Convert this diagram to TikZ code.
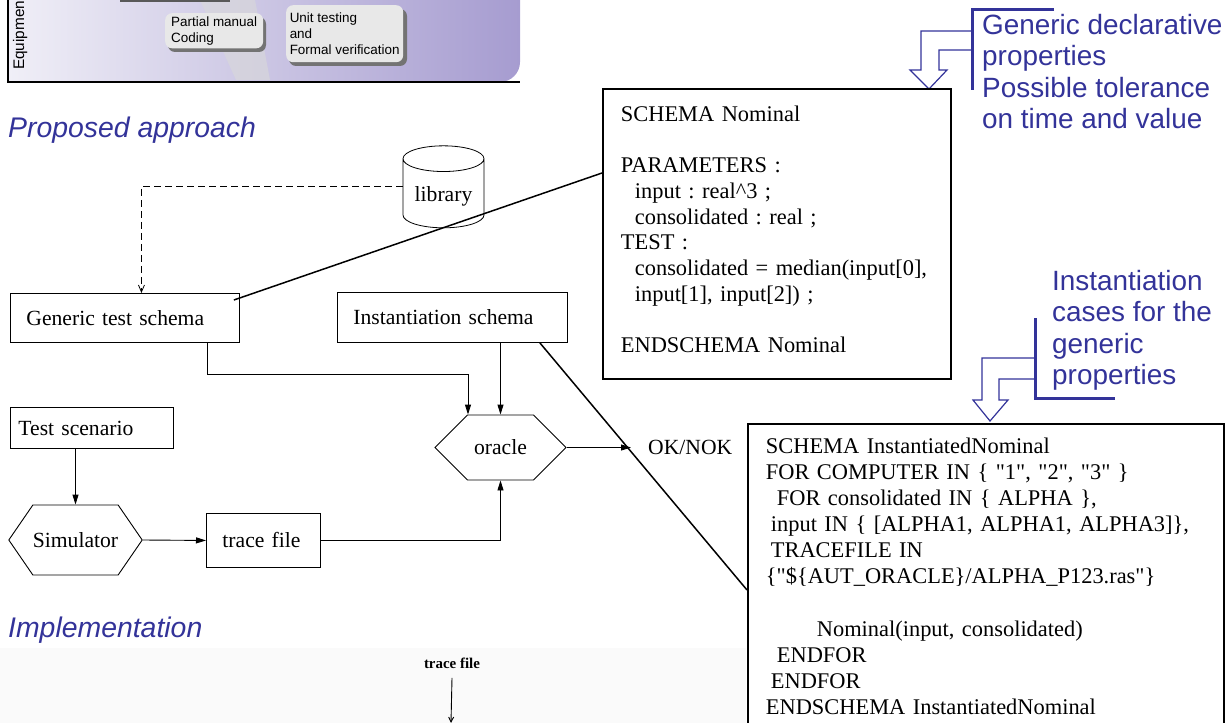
\documentclass[tikz,border=0pt]{standalone}
\usepackage{fontspec}
\setmainfont{Liberation Serif}
\newfontfamily\arialfont{Liberation Sans}
\usetikzlibrary{arrows.meta,shapes.geometric,shapes.symbols}
\definecolor{slideblue}{RGB}{51,51,153}
\definecolor{panelpurple}{RGB}{166,156,208}
\definecolor{panellight}{RGB}{240,239,247}
\frenchspacing

\begin{document}
\begin{tikzpicture}[x=1bp,y=-1bp,
  flowbox/.style={draw,line width=0.9bp,anchor=north west,inner xsep=16bp,align=left,font=\fontsize{21.7}{25}\selectfont},
  hexbox/.style={draw,line width=0.9bp,signal,signal to=west and east,inner xsep=0pt,font=\fontsize{21.7}{25}\selectfont},
  schemabox/.style={draw,line width=1.8bp,anchor=north west,align=left,inner xsep=18bp},
  flow/.style={line width=0.9bp,-{Triangle[length=10bp,width=6bp]}},
  link/.style={line width=1.5bp},
  heading/.style={slideblue,anchor=base west,inner sep=0pt,font=\arialfont\itshape\fontsize{28.5}{31}\selectfont},
  note/.style={slideblue,anchor=north west,inner sep=0pt,align=left,font=\arialfont\fontsize{28}{31.5}\selectfont},
  hollow/.style={slideblue,line width=1.2bp},
  bracket/.style={slideblue,line width=3bp},
  tag/.style={fill=black!9,rounded corners=7bp,anchor=north west,align=left,inner xsep=6bp,font=\arialfont\fontsize{13.5}{16}\selectfont}]
\useasboundingbox (0,0) rectangle (1230,723);
\clip (0,0) rectangle (1230,723);
\shade[left color=panellight,right color=panelpurple] (8,0) -- (520,0) [rounded corners=20bp] -- (520,82) [sharp corners] -- (8,82) -- cycle;
\fill[black!15,opacity=.6] (200,0) -- (255,0) -- (270,80) -- (236,80) -- cycle;
\fill[black!65] (120,0) rectangle (230,2.5);
\fill[black!55,rounded corners=7bp] (168,17) rectangle (266,52);
\fill[black!55,rounded corners=7bp] (289,9) rectangle (407,66);
\node[tag,minimum width=97bp,minimum height=35bp] (coding) at (165,13) {Partial manual\\Coding};
\node[tag,inner xsep=3bp,minimum width=117bp,minimum height=57bp] (unittest) at (286,5) {Unit testing\\and\\Formal verification};
\draw[line width=1.5bp] (8,0) -- (8,82) -- (520,82);
\node[rotate=90,anchor=base west,inner sep=0pt,font=\arialfont\fontsize{15.4}{18}\selectfont] (equip) at (24,70) {Equipmen};
\node[heading] (proposed) at (8,138) {Proposed approach};
\fill[black!2] (0,648) rectangle (746,723);
\node[heading] (implem) at (8,637) {Implementation};
\node[note] (declnote) at (982,14) {Generic declarative\\properties\\Possible tolerance\\on time and value};
\node[note] (instnote) at (1052,270) {Instantiation\\cases for the\\generic\\properties};
\draw[bracket] (1054,10) -| (972,90);
\draw[hollow] (972,31) -| (921,70) -- (910,70) -- (929,89) -- (947,70) -- (939,70) |- (972,50);
\draw[bracket] (1035,318) |- (1115,398);
\draw[hollow] (1035,358) -| (982,400) -- (973,400) -- (990,421) -- (1008,400) -- (999,400) |- (1035,379);
\node[schemabox,text width=312bp,inner ysep=17bp,font=\fontsize{22.5}{25.8}\selectfont] (nominal) at (602,88) {SCHEMA Nominal\\~\\PARAMETERS :\\\hspace*{14bp}input : real\textasciicircum3 ;\\\hspace*{14bp}consolidated : real ;\\TEST :\\\hspace*{14bp}consolidated = median(input[0],\\\hspace*{14bp}input[1], input[2]) ;\\~\\ENDSCHEMA Nominal\rule[-9bp]{0pt}{0pt}};
\node[schemabox,text width=440bp,inner ysep=14bp,font=\fontsize{22.5}{26.2}\selectfont] (instnominal) at (747,423) {SCHEMA InstantiatedNominal\\FOR COMPUTER IN \{ \textquotedbl1\textquotedbl, \textquotedbl2\textquotedbl, \textquotedbl3\textquotedbl{} \}\\\hspace*{11bp}FOR consolidated IN \{ ALPHA \},\\\hspace*{5bp}input IN \{ [ALPHA1, ALPHA1, ALPHA3]\},\\\hspace*{5bp}TRACEFILE IN\\\{\textquotedbl\$\{AUT\_ORACLE\}/ALPHA\_P123.ras\textquotedbl\}\\~\\\hspace*{51bp}Nominal(input, consolidated)\\\hspace*{11bp}ENDFOR\\\hspace*{5bp}ENDFOR\\ENDSCHEMA InstantiatedNominal};
\node[flowbox,text width=197bp,minimum height=49bp] (generic) at (10,293) {Generic test schema};
\node[flowbox,text width=198bp,minimum height=50bp] (instschema) at (337,292) {Instantiation schema};
\node[flowbox,text width=147bp,inner xsep=8bp,minimum height=41bp] (scenario) at (10,407) {Test scenario};
\node[flowbox,text width=82bp,minimum height=54bp] (tracefile) at (206,513) {trace file};
\node[hexbox,signal pointer angle=90,minimum width=131bp,minimum height=65bp] (oracle) at (500.5,447.5) {oracle};
\node[hexbox,signal pointer angle=111,minimum width=131bp,minimum height=70bp] (simulator) at (75.5,540) {Simulator};
\node[draw,line width=0.8bp,cylinder,shape border rotate=90,aspect=0.4,minimum width=81bp,minimum height=82bp,font=\fontsize{21.7}{25}\selectfont] (library) at (443.5,196) {library};
\node[anchor=west,inner xsep=17bp,font=\fontsize{21.7}{25}\selectfont] (oknok) at (631,447.5) {OK/NOK};
\draw[line width=0.8bp,dash pattern=on 7bp off 4bp,-{Straight Barb[length=7bp,width=6bp]}] ([yshift=10bp]library.west) -| ([xshift=16.5bp]generic.north);
\draw[flow] ([xshift=82.5bp]generic.south) -- ++(0,32) -| ([xshift=-32.5bp]oracle.north);
\draw[flow] (instschema.south -| oracle.north) -- (oracle.north);
\draw[flow] (scenario.south -| simulator.north) -- (simulator.north);
\draw[flow] (simulator.east) -- (tracefile.west);
\draw[flow] (tracefile.east) -| (oracle.south);
\draw[flow] (oracle.east) -- (oknok.west);
\draw[link] ([xshift=-6bp,yshift=-7bp]generic.north east) -- ([yshift=-85bp]nominal.north west);
\draw[link] ([xshift=-28bp]instschema.south east) -- ([yshift=-167bp]instnominal.north west);
\node[font=\bfseries\fontsize{15}{17}\selectfont] (traceimpl) at (452,663) {trace file};
\coordinate (implout) at (451,723);
\draw[line width=0.9bp,-{Straight Barb[length=5bp,width=5bp]}] ([yshift=-6bp]traceimpl.south) -- (implout);
\end{tikzpicture}
\end{document}
